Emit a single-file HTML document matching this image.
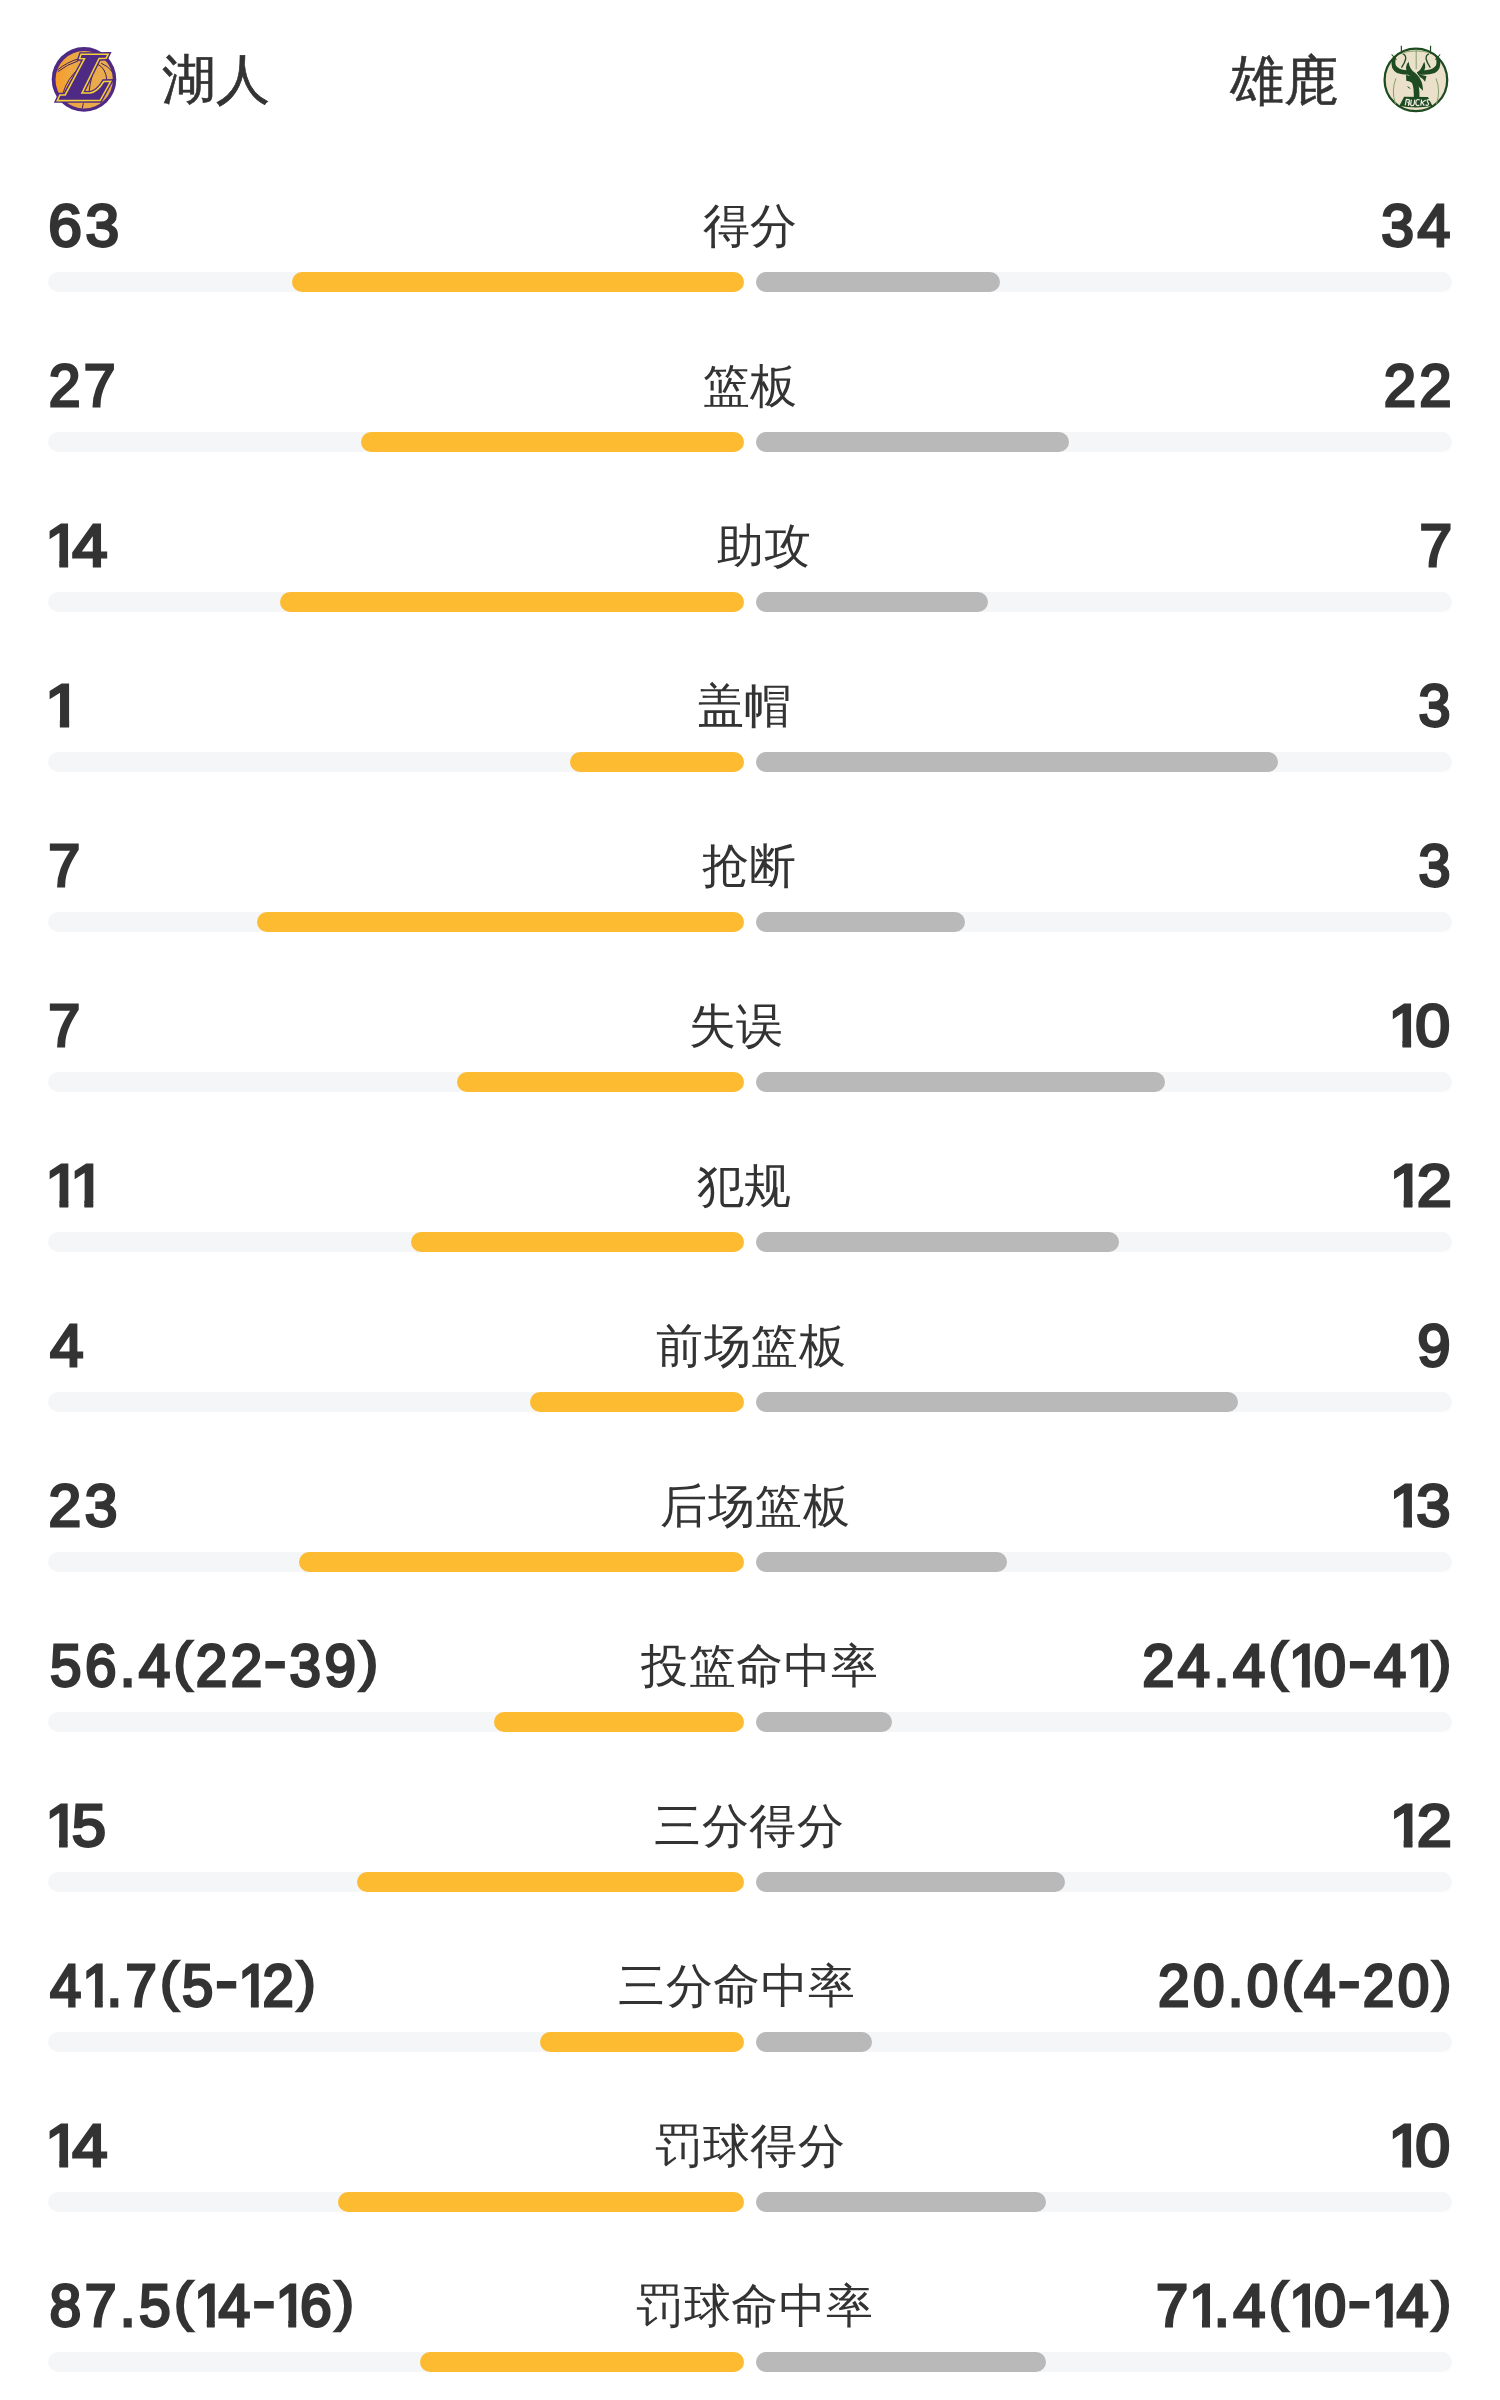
<!DOCTYPE html><html><head><meta charset="utf-8"><style>
html,body{margin:0;padding:0;background:#fff;}
body{width:1500px;height:2400px;overflow:hidden;position:relative;font-family:"Liberation Sans",sans-serif;color:#333;}
.n{position:absolute;left:0;font-weight:normal;-webkit-text-stroke:2.8px #333;letter-spacing:3.5px;font-size:59.5px;line-height:1;white-space:nowrap;transform-origin:0 0;}
.l{position:absolute;will-change:transform;width:1000px;text-align:center;letter-spacing:0.5px;font-size:47px;line-height:1;white-space:nowrap;}
.t{position:absolute;width:696px;height:20px;border-radius:10px;background:#f5f6f8;}
.y{position:absolute;height:20px;border-radius:10px;background:#fcbb31;}
.g{position:absolute;height:20px;border-radius:10px;background:#b9b9b9;}
.tm{position:absolute;will-change:transform;-webkit-text-stroke:0.6px #333;font-size:54px;line-height:1;white-space:nowrap;}
svg{position:absolute;}
.p{display:inline-block;transform-origin:50% 34.86px;transform:translateY(-4.76px) scaleY(0.8968)}.o{display:inline-block;margin-left:-2.5px;margin-right:-11.0px;clip-path:polygon(0 0,100% 0,100% 44.0px,21.6px 44.0px,21.6px 100%,13.4px 100%,13.4px 44.0px,0 44.0px)}.h{display:inline-block;margin:0 1px;transform:translateY(-5.6px) scaleX(1.18)}</style></head><body>
<svg style="left:40px;top:35px" width="90" height="90" viewBox="0 0 1500 1500">
<defs><linearGradient id="lg" x1="0" y1="0" x2="1" y2="0"><stop offset="0" stop-color="#f79c25"/><stop offset="0.25" stop-color="#eda743"/><stop offset="1" stop-color="#e8ad50"/></linearGradient></defs>
<circle cx="733" cy="740" r="538" fill="#4e2a84"/>
<circle cx="736" cy="745" r="478" fill="url(#lg)"/>
<g fill="none" stroke="#3a1d5c" stroke-width="16">
<path d="M290 585 Q 440 455 655 392"/>
<path d="M300 610 Q 450 490 640 430"/>
<path d="M385 965 Q 450 730 660 545"/>
<path d="M420 960 Q 490 760 650 610"/>
<path d="M965 490 Q 1090 545 1115 750"/>
<path d="M868 680 Q 830 820 815 965"/>
<path d="M722 1138 L 706 1218"/>
<path d="M1020 470 Q 1140 520 1200 610"/>
</g>
<path d="M685 322 L1135 320 L1102 388 L985 392 L700 968 L835 968 Q960 945 1062 775 L1178 772 L1002 1092 L288 1094 L332 1000 L420 998 L742 395 L660 393 Z" fill="#4e2a84" stroke="#4e2a84" stroke-width="72" stroke-linejoin="miter"/>
<path d="M685 322 L1135 320 L1102 388 L985 392 L700 968 L835 968 Q960 945 1062 775 L1178 772 L1002 1092 L288 1094 L332 1000 L420 998 L742 395 L660 393 Z" fill="none" stroke="#f3cf3a" stroke-width="26" stroke-linejoin="miter"/>
</svg>

<svg style="left:1370px;top:35px" width="90" height="90" viewBox="0 0 1500 1500">
<circle cx="765" cy="748" r="522" fill="#ebe1ca" stroke="#1f4b22" stroke-width="38"/>
<g fill="none" stroke="#7f9c6c" stroke-width="16">
<path d="M770 245 L770 570"/>
<path d="M560 292 Q 770 240 980 292"/>
<path d="M432 722 Q 350 930 425 1150"/>
<path d="M1100 722 Q 1182 930 1107 1150"/>
</g>
<g fill="#1f4b22">
<path d="M455 318 Q 405 430 430 505 Q 470 570 580 585 L 700 595 L 722 658 Q 550 672 450 632 Q 335 568 362 425 Q 385 355 455 318 Z"/>
<path d="M1075 318 Q 1125 430 1100 505 Q 1060 570 950 585 L 830 595 L 808 658 Q 980 672 1080 632 Q 1195 568 1168 425 Q 1145 355 1075 318 Z"/>
<path d="M645 445 Q 650 560 750 630 Q 850 710 875 840 L 885 930 Q 830 880 780 835 Q 745 760 680 700 Q 600 630 600 540 Q 605 480 645 445 Z"/>
<path d="M905 445 Q 950 560 870 630 L 805 668 L 780 625 Q 850 580 870 520 Q 885 480 905 445 Z"/>
<path d="M800 650 L 942 688 L 918 778 Q 880 720 830 700 Z"/>
<path d="M600 668 Q 720 690 780 760 Q 830 840 825 1062 L 730 1062 Q 735 880 700 800 Q 670 770 605 762 Z"/>
<path d="M615 848 Q 660 860 682 902 Q 640 895 615 848 Z"/>
<path d="M568 1030 L 965 1035 L 1042 1185 Q 765 1230 488 1185 Z"/>
</g>
<g fill="none" stroke="#1f4b22">
<path d="M522 180 L 525 310" stroke-width="20"/>
<path d="M1010 180 L 1007 310" stroke-width="20"/>
<path d="M360 325 L 440 410" stroke-width="18"/>
<path d="M1170 325 L 1090 410" stroke-width="18"/>
<path d="M545 315 Q 600 330 595 400 Q 580 460 525 545" stroke-width="22"/>
<path d="M985 315 Q 930 330 935 400 Q 950 460 1005 545" stroke-width="22"/>
</g>
<g fill="none" stroke="#f0ede4" stroke-width="20" stroke-linejoin="round" transform="translate(0,-14)">
<path d="M588 1185 L605 1088 L645 1090 Q668 1105 650 1132 L620 1135 M650 1132 Q668 1160 640 1185 Z"/>
<path d="M690 1090 L678 1165 Q675 1190 705 1190 Q730 1190 735 1165 L747 1092"/>
<path d="M830 1100 Q815 1085 790 1090 Q768 1098 763 1140 Q760 1188 792 1190 Q812 1190 822 1178"/>
<path d="M860 1092 L845 1190 M930 1095 L870 1140 L905 1190"/>
<path d="M1000 1105 Q985 1088 963 1093 Q942 1105 960 1130 Q985 1150 970 1178 Q950 1195 925 1178"/>
</g>
</svg>

<div class="tm" style="left:162px;top:52px">湖人</div>
<div class="tm" style="left:1230px;top:53px">雄鹿</div>
<div class="n" style="top:196px;transform:translateX(48.32px) scaleX(1.0172)">63</div>
<div class="n" style="top:196px;transform:translateX(1381.26px) scaleX(0.9912)">34</div>
<div class="l" style="left:250.0px;top:202px">得分</div>
<div class="t" style="top:272px;left:48px"></div><div class="t" style="top:272px;left:756px"></div>
<div class="y" style="top:272px;left:292.0px;width:452.0px"></div>
<div class="g" style="top:272px;left:756px;width:244.0px"></div>
<div class="n" style="top:356px;transform:translateX(48.66px) scaleX(0.9594)">27</div>
<div class="n" style="top:356px;transform:translateX(1383.64px) scaleX(0.9744)">22</div>
<div class="l" style="left:249.5px;top:362px">篮板</div>
<div class="t" style="top:432px;left:48px"></div><div class="t" style="top:432px;left:756px"></div>
<div class="y" style="top:432px;left:360.5px;width:383.5px"></div>
<div class="g" style="top:432px;left:756px;width:312.5px"></div>
<div class="n" style="top:516px;transform:translateX(47.73px) scaleX(1.0667)"><span class="o">1</span>4</div>
<div class="n" style="top:516px;transform:translateX(1419.38px) scaleX(0.9849)">7</div>
<div class="l" style="left:264.1px;top:522px">助攻</div>
<div class="t" style="top:592px;left:48px"></div><div class="t" style="top:592px;left:756px"></div>
<div class="y" style="top:592px;left:280.0px;width:464.0px"></div>
<div class="g" style="top:592px;left:756px;width:232.0px"></div>
<div class="n" style="top:676px;transform:translateX(47.63px) scaleX(1.1257)"><span class="o">1</span></div>
<div class="n" style="top:676px;transform:translateX(1418.47px) scaleX(0.9677)">3</div>
<div class="l" style="left:244.2px;top:682px">盖帽</div>
<div class="t" style="top:752px;left:48px"></div><div class="t" style="top:752px;left:756px"></div>
<div class="y" style="top:752px;left:570.0px;width:174.0px"></div>
<div class="g" style="top:752px;left:756px;width:522.0px"></div>
<div class="n" style="top:836px;transform:translateX(48.31px) scaleX(0.9681)">7</div>
<div class="n" style="top:836px;transform:translateX(1418.47px) scaleX(0.9677)">3</div>
<div class="l" style="left:249.0px;top:842px">抢断</div>
<div class="t" style="top:912px;left:48px"></div><div class="t" style="top:912px;left:756px"></div>
<div class="y" style="top:912px;left:256.8px;width:487.2px"></div>
<div class="g" style="top:912px;left:756px;width:208.8px"></div>
<div class="n" style="top:996px;transform:translateX(48.31px) scaleX(0.9681)">7</div>
<div class="n" style="top:996px;transform:translateX(1390.96px) scaleX(1.0542)"><span class="o">1</span>0</div>
<div class="l" style="left:235.8px;top:1002px">失误</div>
<div class="t" style="top:1072px;left:48px"></div><div class="t" style="top:1072px;left:756px"></div>
<div class="y" style="top:1072px;left:457.4px;width:286.6px"></div>
<div class="g" style="top:1072px;left:756px;width:409.4px"></div>
<div class="n" style="top:1156px;transform:translateX(47.71px) scaleX(1.0790)"><span class="o">1</span><span class="o">1</span></div>
<div class="n" style="top:1156px;transform:translateX(1392.14px) scaleX(1.0616)"><span class="o">1</span>2</div>
<div class="l" style="left:243.6px;top:1162px">犯规</div>
<div class="t" style="top:1232px;left:48px"></div><div class="t" style="top:1232px;left:756px"></div>
<div class="y" style="top:1232px;left:411.1px;width:332.9px"></div>
<div class="g" style="top:1232px;left:756px;width:363.1px"></div>
<div class="n" style="top:1316px;transform:translateX(50.00px) scaleX(1.0137)">4</div>
<div class="n" style="top:1316px;transform:translateX(1417.19px) scaleX(1.0083)">9</div>
<div class="l" style="left:251.0px;top:1322px">前场篮板</div>
<div class="t" style="top:1392px;left:48px"></div><div class="t" style="top:1392px;left:756px"></div>
<div class="y" style="top:1392px;left:529.8px;width:214.2px"></div>
<div class="g" style="top:1392px;left:756px;width:481.8px"></div>
<div class="n" style="top:1476px;transform:translateX(48.62px) scaleX(0.9881)">23</div>
<div class="n" style="top:1476px;transform:translateX(1392.19px) scaleX(1.0366)"><span class="o">1</span>3</div>
<div class="l" style="left:255.1px;top:1482px">后场篮板</div>
<div class="t" style="top:1552px;left:48px"></div><div class="t" style="top:1552px;left:756px"></div>
<div class="y" style="top:1552px;left:299.3px;width:444.7px"></div>
<div class="g" style="top:1552px;left:756px;width:251.3px"></div>
<div class="n" style="top:1636px;transform:translateX(50.09px) scaleX(0.9516)">56.4<span class="p">(</span>22<span class="h">-</span>39<span class="p">)</span></div>
<div class="n" style="top:1636px;transform:translateX(1142.24px) scaleX(0.9729)">24.4<span class="p">(</span><span class="o">1</span>0<span class="h">-</span>4<span class="o">1</span><span class="p">)</span></div>
<div class="l" style="left:259.9px;top:1642px">投篮命中率</div>
<div class="t" style="top:1712px;left:48px"></div><div class="t" style="top:1712px;left:756px"></div>
<div class="y" style="top:1712px;left:494.0px;width:250.0px"></div>
<div class="g" style="top:1712px;left:756px;width:136.1px"></div>
<div class="n" style="top:1796px;transform:translateX(47.79px) scaleX(1.0366)"><span class="o">1</span>5</div>
<div class="n" style="top:1796px;transform:translateX(1392.14px) scaleX(1.0616)"><span class="o">1</span>2</div>
<div class="l" style="left:249.4px;top:1802px">三分得分</div>
<div class="t" style="top:1872px;left:48px"></div><div class="t" style="top:1872px;left:756px"></div>
<div class="y" style="top:1872px;left:357.3px;width:386.7px"></div>
<div class="g" style="top:1872px;left:756px;width:309.3px"></div>
<div class="n" style="top:1956px;transform:translateX(50.00px) scaleX(0.9457)">4<span class="o">1</span>.7<span class="p">(</span>5<span class="h">-</span><span class="o">1</span>2<span class="p">)</span></div>
<div class="n" style="top:1956px;transform:translateX(1158.07px) scaleX(0.9522)">20.0<span class="p">(</span>4<span class="h">-</span>20<span class="p">)</span></div>
<div class="l" style="left:236.5px;top:1962px">三分命中率</div>
<div class="t" style="top:2032px;left:48px"></div><div class="t" style="top:2032px;left:756px"></div>
<div class="y" style="top:2032px;left:539.9px;width:204.1px"></div>
<div class="g" style="top:2032px;left:756px;width:116.0px"></div>
<div class="n" style="top:2116px;transform:translateX(47.73px) scaleX(1.0667)"><span class="o">1</span>4</div>
<div class="n" style="top:2116px;transform:translateX(1390.96px) scaleX(1.0542)"><span class="o">1</span>0</div>
<div class="l" style="left:250.0px;top:2122px">罚球得分</div>
<div class="t" style="top:2192px;left:48px"></div><div class="t" style="top:2192px;left:756px"></div>
<div class="y" style="top:2192px;left:338.0px;width:406.0px"></div>
<div class="g" style="top:2192px;left:756px;width:290.0px"></div>
<div class="n" style="top:2276px;transform:translateX(49.60px) scaleX(0.9585)">87.5<span class="p">(</span><span class="o">1</span>4<span class="h">-</span><span class="o">1</span>6<span class="p">)</span></div>
<div class="n" style="top:2276px;transform:translateX(1155.90px) scaleX(0.9712)">7<span class="o">1</span>.4<span class="p">(</span><span class="o">1</span>0<span class="h">-</span><span class="o">1</span>4<span class="p">)</span></div>
<div class="l" style="left:254.8px;top:2282px">罚球命中率</div>
<div class="t" style="top:2352px;left:48px"></div><div class="t" style="top:2352px;left:756px"></div>
<div class="y" style="top:2352px;left:419.6px;width:324.4px"></div>
<div class="g" style="top:2352px;left:756px;width:289.8px"></div>
</body></html>
